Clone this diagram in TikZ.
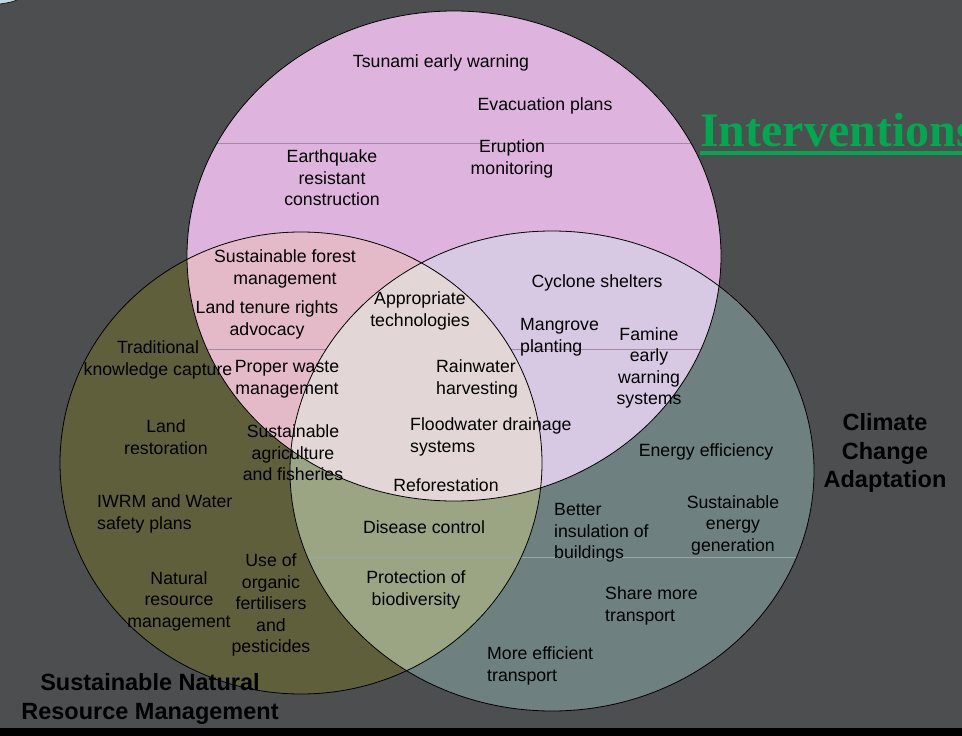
\documentclass[tikz,border=0pt]{standalone}
\usepackage{fontspec}
\setmainfont{Liberation Sans}
\newfontfamily\titlefont{Liberation Serif}
\usepackage{xcolor}
\usetikzlibrary{positioning}
\definecolor{slidebg}{HTML}{4D4E50}
\definecolor{hazcol}{HTML}{DEB4DE}
\definecolor{nrmcol}{HTML}{5F5F3C}
\definecolor{ccacol}{HTML}{6E8080}
\definecolor{haznrm}{HTML}{E4BAC8}
\definecolor{hazcca}{HTML}{D7C8E4}
\definecolor{nrmcca}{HTML}{9BA583}
\definecolor{allthree}{HTML}{E2D6D6}
\definecolor{intgreen}{HTML}{00A850}
% the three sets
\newcommand{\hazset}{(454,256) ellipse [x radius=267pt, y radius=245pt]}
\newcommand{\nrmset}{(301,463) ellipse [x radius=241pt, y radius=231pt]}
\newcommand{\ccaset}{(552,471) ellipse [x radius=262pt, y radius=240pt]}

\begin{document}
\begin{tikzpicture}[x=1pt, y=-1pt,
    lbl/.style={align=center, inner sep=0pt, yshift=-2pt, font=\fontsize{17.7}{21.5}\selectfont},
    lblw/.style={lbl, align=left, anchor=west},
    setname/.style={align=center, inner sep=0pt, yshift=-2pt, font=\bfseries\fontsize{23.5}{28.5}\selectfont}]
    \useasboundingbox (0,0) rectangle (962,736);
    \clip (0,0) rectangle (962,736);
    \fill[slidebg] (0,0) rectangle (962,736);
    \fill[black] (0,728) rectangle (962,736);
    \filldraw[fill=gray!55!cyan!40!white, draw=black, line width=0.6pt] (-30,-3) ellipse [x radius=50pt, y radius=8.7pt];
    % Sets
    \fill[hazcol] \hazset;
    \fill[nrmcol] \nrmset;
    \fill[ccacol] \ccaset;
    \begin{scope}
        \clip \hazset;
        \fill[haznrm] \nrmset;
        \fill[hazcca] \ccaset;
        \draw[line width=0.6pt, color=hazcol!75!black] (150,143) -- (760,143);
        \draw[line width=0.6pt, color=hazcol!75!black] (150,349) -- (760,349);
    \end{scope}
    \begin{scope}
        \clip \nrmset;
        \fill[nrmcca] \ccaset;
        \clip \hazset;
        \fill[allthree] \ccaset;
    \end{scope}
    \begin{scope}
        \clip \ccaset;
        \draw[line width=0.6pt, color=white!30!ccacol] (250,557) -- (850,557);
    \end{scope}
    \draw[line width=0.8pt] \hazset;
    \draw[line width=0.8pt] \nrmset;
    \draw[line width=0.8pt] \ccaset;
    % Title
    \node (title) [anchor=base west, inner sep=0pt, text=intgreen, font=\titlefont\bfseries\fontsize{48}{50}\selectfont] at (700,146) {Interventions};
    \fill[intgreen] (title.base west) ++(0,4.7) rectangle (965,155.3);
    % Hazards only
    \node (tsunami) [lbl] at (441,61) {Tsunami early warning};
    \node (evac) [lbl] at (545,104) {Evacuation plans};
    \node (eruption) [lbl] at (512,157) {Eruption\\monitoring};
    \node (quake) [lbl] at (332,176) {Earthquake\\resistant\\construction};
    % Hazards and NRM
    \node (forest) [lbl] at (285,267) {Sustainable forest\\management};
    \node (tenure) [lbl] at (267,318) {Land tenure rights\\advocacy};
    \node (waste) [lbl] at (287,377) {Proper waste\\management};
    \node (agri) [lbl] at (293,451) {Sustainable\\agriculture\\and fisheries};
    % NRM only
    \node (tradition) [lbl] at (158,358) {Traditional\\knowledge capture};
    \node (landrest) [lbl] at (166,435) {Land\\restoration};
    \node (iwrm) [lblw] at (97,512) {IWRM and Water\\safety plans};
    \node (natres) [lbl] at (179,599) {Natural\\resource\\management};
    \node (organic) [lbl] at (271,603) {Use of\\organic\\fertilisers\\and\\pesticides};
    % All three
    \node (approp) [lbl] at (420,309) {Appropriate\\technologies};
    \node (rain) [lblw] at (436,377) {Rainwater\\harvesting};
    \node (flood) [lblw] at (410,435) {Floodwater drainage\\systems};
    \node (refor) [lbl] at (446,483) {Reforestation};
    % Hazards and CCA
    \node (cyclone) [lbl] at (597,281) {Cyclone shelters};
    \node (mangrove) [lblw] at (520,335) {Mangrove\\planting};
    \node (famine) [lbl] at (649,366) {Famine\\early\\warning\\systems};
    % NRM and CCA
    \node (disease) [lbl] at (424,525) {Disease control};
    \node (biodiv) [lbl] at (416,588) {Protection of\\biodiversity};
    % CCA only
    \node (energy) [lbl] at (706,450) {Energy efficiency};
    \node (insul) [lblw] at (554,531) {Better\\insulation of\\buildings};
    \node (sustgen) [lbl] at (733,523) {Sustainable\\energy\\generation};
    \node (share) [lblw] at (605,604) {Share more\\transport};
    \node (transport) [lblw] at (487,664) {More efficient\\transport};
    % Set names
    \node (ccaname) [setname] at (885,451) {Climate\\Change\\Adaptation};
    \node (nrmname) [setname] at (150,697) {Sustainable Natural\\Resource Management};
\end{tikzpicture}
\end{document}
